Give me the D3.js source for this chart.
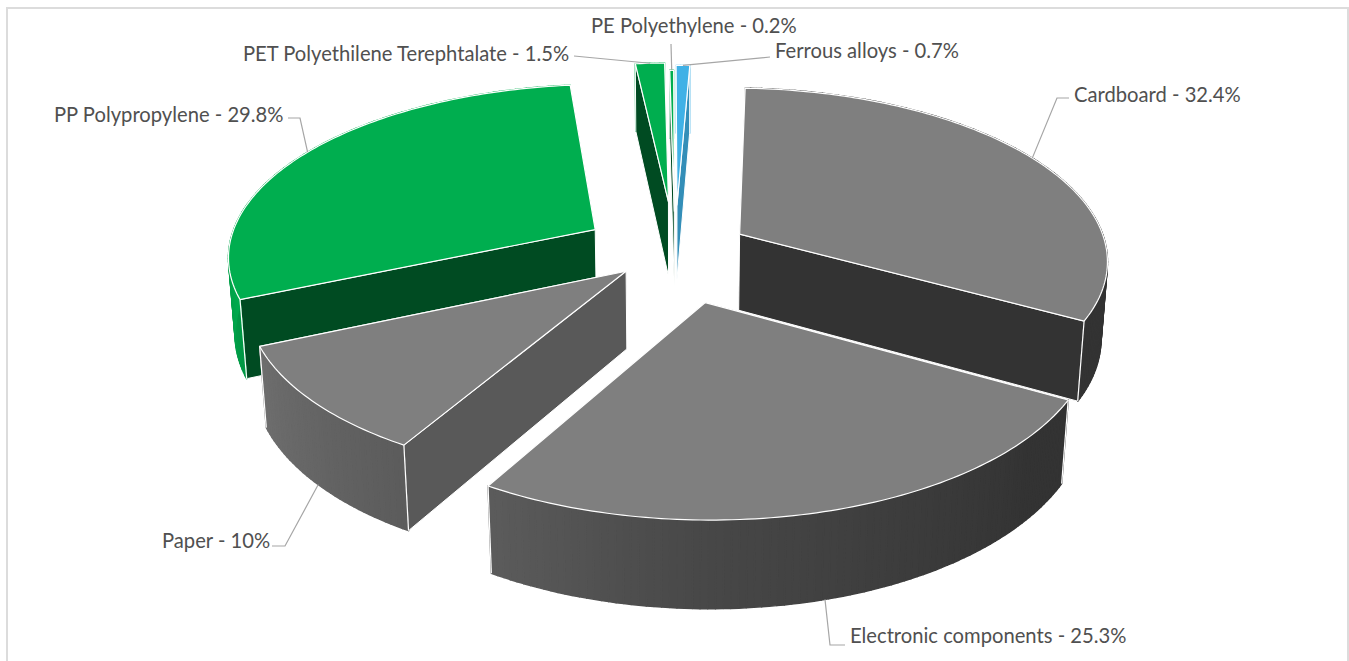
<!DOCTYPE html>
<html>
<head>
<meta charset="utf-8">
<script src="https://cdn.jsdelivr.net/npm/d3@7"></script>
<style>
  html, body { margin: 0; background: #fff; overflow: hidden; }
  text { font-family: Lato, "Open Sans", sans-serif; font-size: 20.2px; fill: #505050; }
</style>
</head>
<body>
<svg id="chart" width="1349" height="661"></svg>
<script>
// data, clockwise from the top
const categories = ['Cardboard', 'Electronic components', 'Paper', 'PP Polypropylene',
  'PET Polyethilene Terephtalate', 'PE Polyethylene', 'Ferrous alloys'];
const values = [32.4, 25.3, 10, 29.8, 1.5, 0.2, 0.7];
const valueLabels = ['32.4%', '25.3%', '10%', '29.8%', '1.5%', '0.2%', '0.7%'];

// slice look
const explode = [0.204, 0.3, 0.175, 0.255, 0.3, 0.24, 0.28];
const colors = ['#7f7f7f', '#7f7f7f', '#7f7f7f', '#00ae4f', '#00ae4f', '#00ae4f', '#40b1e6'];
const faceShade = [0.4, 0.4, 0.7, 0.43, 0.43, 0.43, 0.8];

// label layout: left x, middle y, leader elbow, leader end on top (0) or bottom (1) of slice
const labelX = [1074, 850, 162, 54, 243, 591, 775];
const labelY = [95, 636, 541, 115, 54, 26, 51];
const leaderStart = [[1069, 98], [845, 645], [272, 546], [288, 118], [574, 56], [671, 44], [770, 57]];
const leaderElbow = [[1057, 98], [830, 645], [285, 546], [300, 118], null, null, null];
const leaderDepth = [0, 1, 1, 0, 0, 0, 0];

const height = 661;
const svg = d3.select('#chart');

// frame of the chart area
svg.append('path')
  .attr('d', `M7,${height}V8H1348V${height}`)
  .attr('fill', 'none')
  .attr('stroke', '#dcdcdc')
  .attr('stroke-width', 2);

// perspective of the tilted pie, radius = 1, depth z = 0 top, 1 bottom
const cx = 675, cy = 251;
const a = 368, b = 171, k = 0.14, m = 0.015, c = 78;
function project(X, Y, z) {
  const w = 1 - k * Y + m * z;
  return [cx + a * X / w, cy + (b * Y + c * z) / w];
}

const firstAngle = 2.4 * Math.PI / 180;
const pie = d3.pie().sort(null).startAngle(firstAngle).endAngle(firstAngle + 2 * Math.PI);
const line = d3.line();

// light on the outer wall by angle (degrees)
const wallLight = d3.scaleLinear()
  .domain([130, 180, 210, 250, 275])
  .range([0.4, 0.56, 0.72, 0.88, 1])
  .clamp(true);

function shade(color, f) {
  const r = d3.rgb(color);
  return d3.rgb(r.r * f, r.g * f, r.b * f).formatHex();
}

const slices = pie(values).map((d, i) => {
  const mid = (d.startAngle + d.endAngle) / 2;
  const ox = explode[i] * Math.sin(mid);
  const oy = -explode[i] * Math.cos(mid);
  const steps = Math.max(2, Math.ceil((d.endAngle - d.startAngle) / 0.0175));
  const angles = d3.range(steps + 1).map(s => d.startAngle + (d.endAngle - d.startAngle) * s / steps);
  const at = (t, r, z) => project(ox + r * Math.sin(t), oy - r * Math.cos(t), z);
  return { i, mid, oy, angles, at };
});

// back to front
const order = slices.slice().sort((p, q) => d3.ascending(p.oy, q.oy));

const g = svg.append('g').attr('stroke-linejoin', 'round');

// outer wall as thin strips so the light can change along it
function drawWall(s, col, keep) {
  d3.pairs(s.angles).forEach(([t0, t1]) => {
    const t = (t0 + t1) / 2;
    if (!keep(t)) return;
    const fill = shade(col, wallLight(t * 180 / Math.PI));
    g.append('path')
      .attr('d', line([s.at(t0, 1, 0), s.at(t1, 1, 0), s.at(t1, 1, 1), s.at(t0, 1, 1)]) + 'Z')
      .attr('fill', fill)
      .attr('stroke', fill)
      .attr('stroke-width', 1.5);
  });
}

order.forEach(s => {
  const col = colors[s.i];
  const first = s.angles[0];
  const last = s.angles[s.angles.length - 1];

  // back part of the wall stays behind the cut faces
  drawWall(s, col, t => Math.cos(t) > 0);

  // the two cut faces, the one further back goes first
  const cuts = [first, last].sort((p, q) => d3.descending(Math.cos(p), Math.cos(q)));
  cuts.forEach(t => {
    g.append('path')
      .attr('d', line([s.at(t, 0, 0), s.at(t, 1, 0), s.at(t, 1, 1), s.at(t, 0, 1)]) + 'Z')
      .attr('fill', shade(col, faceShade[s.i]))
      .attr('stroke', '#fff')
      .attr('stroke-width', 1);
  });

  drawWall(s, col, t => Math.cos(t) <= 0);

  // corners of the wall, only where it faces the viewer
  [first, last].filter(t => Math.cos(t) <= 0.2).forEach(t => {
    g.append('path')
      .attr('d', line([s.at(t, 1, 0), s.at(t, 1, 1)]))
      .attr('stroke', '#fff')
      .attr('stroke-width', 1.2);
  });

  // top
  g.append('path')
    .attr('d', line([s.at(0, 0, 0)].concat(s.angles.map(t => s.at(t, 1, 0)))) + 'Z')
    .attr('fill', col)
    .attr('stroke', '#fff')
    .attr('stroke-width', 1.2);
});

// leaders
const leaders = svg.append('g').attr('fill', 'none').attr('stroke', '#a6a6a6').attr('stroke-width', 1.2);
slices.forEach(s => {
  const pts = [leaderStart[s.i]];
  if (leaderElbow[s.i]) pts.push(leaderElbow[s.i]);
  pts.push(s.at(s.mid, 1, leaderDepth[s.i]));
  leaders.append('path').attr('d', line(pts));
});

// labels
svg.append('g').selectAll('text')
  .data(categories)
  .enter()
  .append('text')
  .attr('x', (d, i) => labelX[i])
  .attr('y', (d, i) => labelY[i])
  .attr('dy', '0.35em')
  .text((d, i) => `${d} - ${valueLabels[i]}`);
</script>
</body>
</html>
